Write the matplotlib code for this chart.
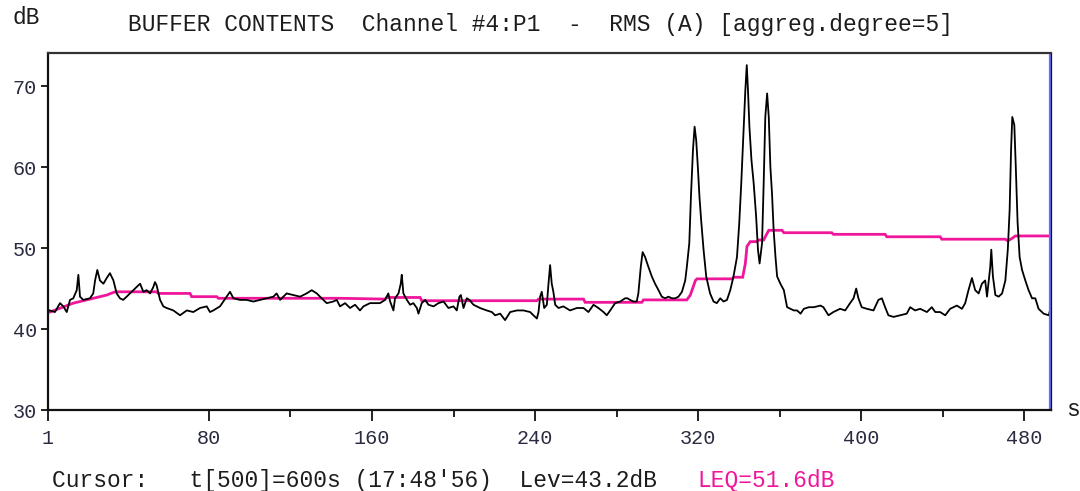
#!/usr/bin/env python3
"""Buffer contents plot: RMS (A) level of channel #4 with running LEQ."""

import matplotlib

matplotlib.use("Agg")
import matplotlib.pyplot as plt
from matplotlib.ticker import FixedLocator

FONT = ["Liberation Mono", "DejaVu Sans Mono"]

# RMS (A) level, black trace (index, dB)
RMS_T = [
    1, 2.0, 4.4, 6.9, 8.5, 10.2, 11.8, 13.4, 15.1, 15.9, 16.7, 18.3, 21.6, 23.2, 24.1, 25.2,
    26.5, 28.2, 29.8, 31.4, 33.1, 34.7, 36.3, 37.9, 39.6, 41.2, 42.9, 44.5, 46.2, 47.8, 49.4,
    51.1, 52.7, 53.5, 54.3, 56.0, 57.6, 59.2, 62.5, 65.8, 69.1, 72.3, 75.6, 78.9, 80.5, 82.1,
    85.4, 88.7, 90.3, 92.0, 95.2, 98.5, 101.8, 105.0, 108.3, 111.6, 113.2, 114.9, 118.1,
    121.4, 124.7, 127.9, 130.4, 132.9, 136.1, 137.8, 141.0, 142.7,
    144.3, 146.8, 149.2, 151.7, 154.1, 155.8, 157.4, 159.0, 163.9, 166.4, 168.0, 168.9,
    170.5, 171.3, 173.0, 174.1, 174.6, 175.4, 177.1, 178.7, 180.3, 182.0, 182.8, 184.4,
    186.1, 187.7, 190.2, 192.6, 195.1, 197.5, 200.0, 201.6, 202.9, 203.6, 204.9, 206.5,
    207.8, 209.8, 213.0, 216.3, 218.8, 220.4, 222.9, 225.3, 227.8, 231.1, 234.3, 237.6,
    239.2, 240.9, 241.7, 242.5, 243.3, 244.5, 245.8, 246.6, 247.4, 248.2, 249.0, 249.9,
    251.5, 253.9, 257.2, 260.5, 263.8, 266.2, 268.7, 271.1, 273.6, 275.2, 276.9, 279.3,
    281.8, 284.2, 285.4,
    286.6, 288.3, 289.9, 290.7, 291.9, 292.8, 294.0, 295.6, 297.3, 298.9, 300.6, 302.2,
    303.8, 305.5, 307.1, 308.8, 310.4, 312.1, 313.7, 314.5, 315.7, 316.5, 317.5, 318.3,
    319.1, 319.9, 320.7, 321.5, 322.7, 324.0, 325.9, 327.6, 329.2, 330.9, 332.5, 334.2,
    335.8, 337.4, 339.1, 340.2, 341.2, 342.4, 343.2, 343.9, 344.5, 345.2, 346.2, 347.3,
    348.5, 349.4, 350.2, 351.4, 352.2, 353.0, 353.9, 354.7, 355.5, 356.3, 357.1, 358.0,
    358.8, 360.4, 362.1, 363.7, 365.4, 367.0, 368.6, 370.3, 371.9, 374.4, 376.8, 380.1,
    381.5, 384.0, 386.4, 389.7, 392.2, 394.6, 396.3, 397.6, 398.7, 400.3, 402.8, 406.1,
    408.5, 410.2, 411.8, 413.4, 415.9, 419.2, 422.4, 424.1, 426.5, 429.0, 432.3, 434.7,
    436.4, 438.8, 441.3, 443.7, 447.0, 449.5, 451.1, 452.7, 454.4, 456.0, 457.7, 459.3,
    460.9, 461.8, 463.4, 463.9, 464.7, 465.9, 467.5, 469.2, 470.8, 472.0, 472.9, 473.6,
    474.2, 475.2, 475.9, 476.8, 477.8, 479.0, 480.6, 482.2, 483.9, 485.5, 487.1, 489.6,
    492.1, 492.9,
]
RMS_DB = [
    42.3, 42.3, 42.1, 43.2, 42.8, 42.1, 43.6, 43.8, 44.8, 46.7, 44.0, 43.6, 43.8, 44.4, 46.0, 47.3,
    46.0, 45.6, 46.3, 46.9, 46.0, 44.4, 43.8, 43.6, 44.0, 44.4, 44.8, 45.2, 45.6, 44.6, 44.8,
    44.4, 45.2, 45.8, 45.4, 43.6, 42.8, 42.6, 42.3, 41.7, 42.3, 42.1, 42.6, 42.8, 42.1, 42.3,
    42.8, 44.0, 44.6, 43.8, 43.6, 43.6, 43.4, 43.6, 43.8, 44.0, 44.4, 43.6, 44.4,
    44.2, 44.0, 44.4, 44.8, 44.4, 43.6, 43.2, 43.4, 43.6,
    42.8, 43.2, 42.6, 43.0, 42.3, 42.8, 43.0, 43.2, 43.2, 43.6, 44.4, 43.4,
    42.3, 43.8, 44.4, 45.6, 46.7, 44.4, 43.6, 43.0, 43.2, 42.6, 41.9, 43.2,
    43.6, 43.0, 42.8, 43.2, 43.4, 42.6, 42.8, 42.3, 44.0, 44.2, 42.6, 43.8,
    43.6, 43.0, 42.6, 42.3, 42.1, 41.7, 41.9, 41.1, 42.1, 42.3, 42.3, 42.1,
    41.7, 41.3, 42.1, 44.0, 44.6, 42.6, 43.0, 45.6, 47.9, 45.6, 44.6, 43.0,
    42.6, 42.8, 42.3, 42.6, 42.6, 42.1, 43.0, 42.6, 42.1, 41.7, 42.3, 43.2,
    43.4, 43.8, 43.8,
    43.6, 43.4, 43.4, 44.4, 47.7, 49.5, 48.9, 47.7, 46.5, 45.6, 44.8, 44.0,
    43.8, 44.0, 43.8, 43.8, 44.0, 44.6, 46.0, 47.7, 50.6, 56.3, 62.1, 65.0,
    63.3, 60.0, 56.3, 53.5, 49.8, 46.5, 44.4, 43.4, 43.2, 43.8, 43.4, 43.6,
    44.8, 46.5, 48.9, 53.0, 58.0, 65.0, 69.5, 72.6, 69.5, 65.0, 60.9, 58.0,
    53.9, 49.8, 48.1, 50.6, 58.0, 66.2, 69.1, 66.2, 60.0, 56.7, 52.2, 48.9,
    46.5, 45.6, 44.8, 42.7, 42.5, 42.3, 42.3, 41.9, 42.5, 42.7, 42.7, 42.9,
    42.7, 41.7, 42.1, 42.5, 42.3, 43.2, 43.8, 45.0, 43.8, 42.7, 42.5, 42.3,
    43.6, 43.8, 42.7, 41.7, 41.5, 41.7, 41.9, 42.7, 42.3, 42.5, 42.1, 42.7,
    42.1, 42.1, 41.7, 42.5, 42.9, 42.5, 43.2, 44.8, 46.3, 44.8, 44.4, 45.6,
    46.0, 44.0, 47.7, 49.8, 46.5, 44.2, 44.0, 44.4, 46.0, 49.8, 54.7, 62.1,
    66.2, 65.2, 60.2, 53.2, 48.9, 47.3, 46.0, 44.8, 43.8, 43.8, 42.5, 41.9,
    41.7, 42.5,
]

# running LEQ, magenta trace (index, dB)
LEQ_T = [
    1, 2.0, 13.4, 21.6, 29.8, 33.9, 54.3, 55.1, 70.7, 71.5, 83.8, 84.6, 144.3, 166.4, 167.2,
    183.6, 184.4, 240.9, 241.7, 263.8, 264.6, 292.4, 293.2, 314.5, 316.2, 318.7, 319.5, 336.7,
    337.5, 341.9, 343.2, 344.0, 345.6, 348.9, 349.7, 352.2, 353.4, 354.7, 361.2, 362.1, 385.6,
    386.4, 411.8, 412.6, 438.8, 439.6, 470.8, 472.0, 474.1, 475.7, 492.9,
]
LEQ_DB = [
    42.1, 42.1, 43.2, 43.7, 44.2, 44.6, 44.6, 44.4, 44.4, 44.0, 44.0, 43.8, 43.8, 43.7, 43.9,
    43.9, 43.5, 43.5, 43.7, 43.7, 43.3, 43.3, 43.6, 43.6, 44.2, 46.0, 46.2, 46.2,
    46.4, 46.4, 48.1, 50.2, 50.8, 50.8, 51.0, 51.0, 51.6, 52.2, 52.2, 51.9, 51.9,
    51.7, 51.7, 51.4, 51.4, 51.1, 51.1, 50.9, 51.2, 51.5, 51.5,
]

X_MAJOR = [1, 80, 160, 240, 320, 400, 480]
X_MINOR = [120, 200, 280, 360, 440]
Y_MAJOR = [30, 40, 50, 60, 70]
X_RANGE = (1, 493.2)
Y_RANGE = (30, 74.1)


def main():
    fig = plt.figure(figsize=(10.8, 4.91), dpi=100)
    ax = fig.add_axes([48 / 1080, 1 - 410 / 491, 1003 / 1080, 357 / 491])

    ax.plot(LEQ_T, LEQ_DB, color="#f0169c", lw=2.0, solid_joinstyle="miter")
    ax.plot(RMS_T, RMS_DB, color="black", lw=1.3)
    # cursor at the end of the buffer
    ax.axvline(X_RANGE[1] - 0.5, color="#6a6aff", lw=1.6)

    ax.set_xlim(*X_RANGE)
    ax.set_ylim(*Y_RANGE)
    ax.xaxis.set_major_locator(FixedLocator(X_MAJOR))
    ax.xaxis.set_minor_locator(FixedLocator(X_MINOR))
    ax.yaxis.set_major_locator(FixedLocator(Y_MAJOR))
    ax.tick_params(axis="x", which="major", length=8, width=1.4, pad=6, labelsize=14.5,
                   labelcolor="#2a2a40", color="#222222")
    ax.tick_params(axis="x", which="minor", length=5, width=1.4, color="#222222")
    ax.tick_params(axis="y", length=5, width=1.4, pad=3, labelsize=14.5,
                   labelcolor="#2a2a40", color="#222222")
    for lbl in ax.get_xticklabels() + ax.get_yticklabels():
        lbl.set_family(FONT)

    for side in ("left", "bottom"):
        ax.spines[side].set_color("#111111")
        ax.spines[side].set_linewidth(1.6)
    ax.spines["top"].set_color("#333333")
    ax.spines["top"].set_linewidth(1.6)
    ax.spines["right"].set_color("#111111")
    ax.spines["right"].set_linewidth(0.9)

    txt = dict(family=FONT, fontsize=16.5, color="#1c1c1c", va="center")
    fig.text(540 / 1080, 1 - 25 / 491,
             "BUFFER CONTENTS  Channel #4:P1  -  RMS (A) [aggreg.degree=5]", ha="center", **txt)
    fig.text(13 / 1080, 1 - 18 / 491, "dB", ha="left", **txt)
    fig.text(1066 / 1080, 1 - 410 / 491, "s", ha="left", **txt)
    fig.text(52 / 1080, 1 - 480 / 491, "Cursor:   t[500]=600s (17:48'56)  Lev=43.2dB",
             ha="left", **txt)
    txt["color"] = "#f0169c"
    fig.text(697 / 1080, 1 - 480 / 491, "LEQ=51.6dB", ha="left", **txt)

    fig.savefig("out.png", dpi=100)
    plt.close(fig)


if __name__ == "__main__":
    main()
